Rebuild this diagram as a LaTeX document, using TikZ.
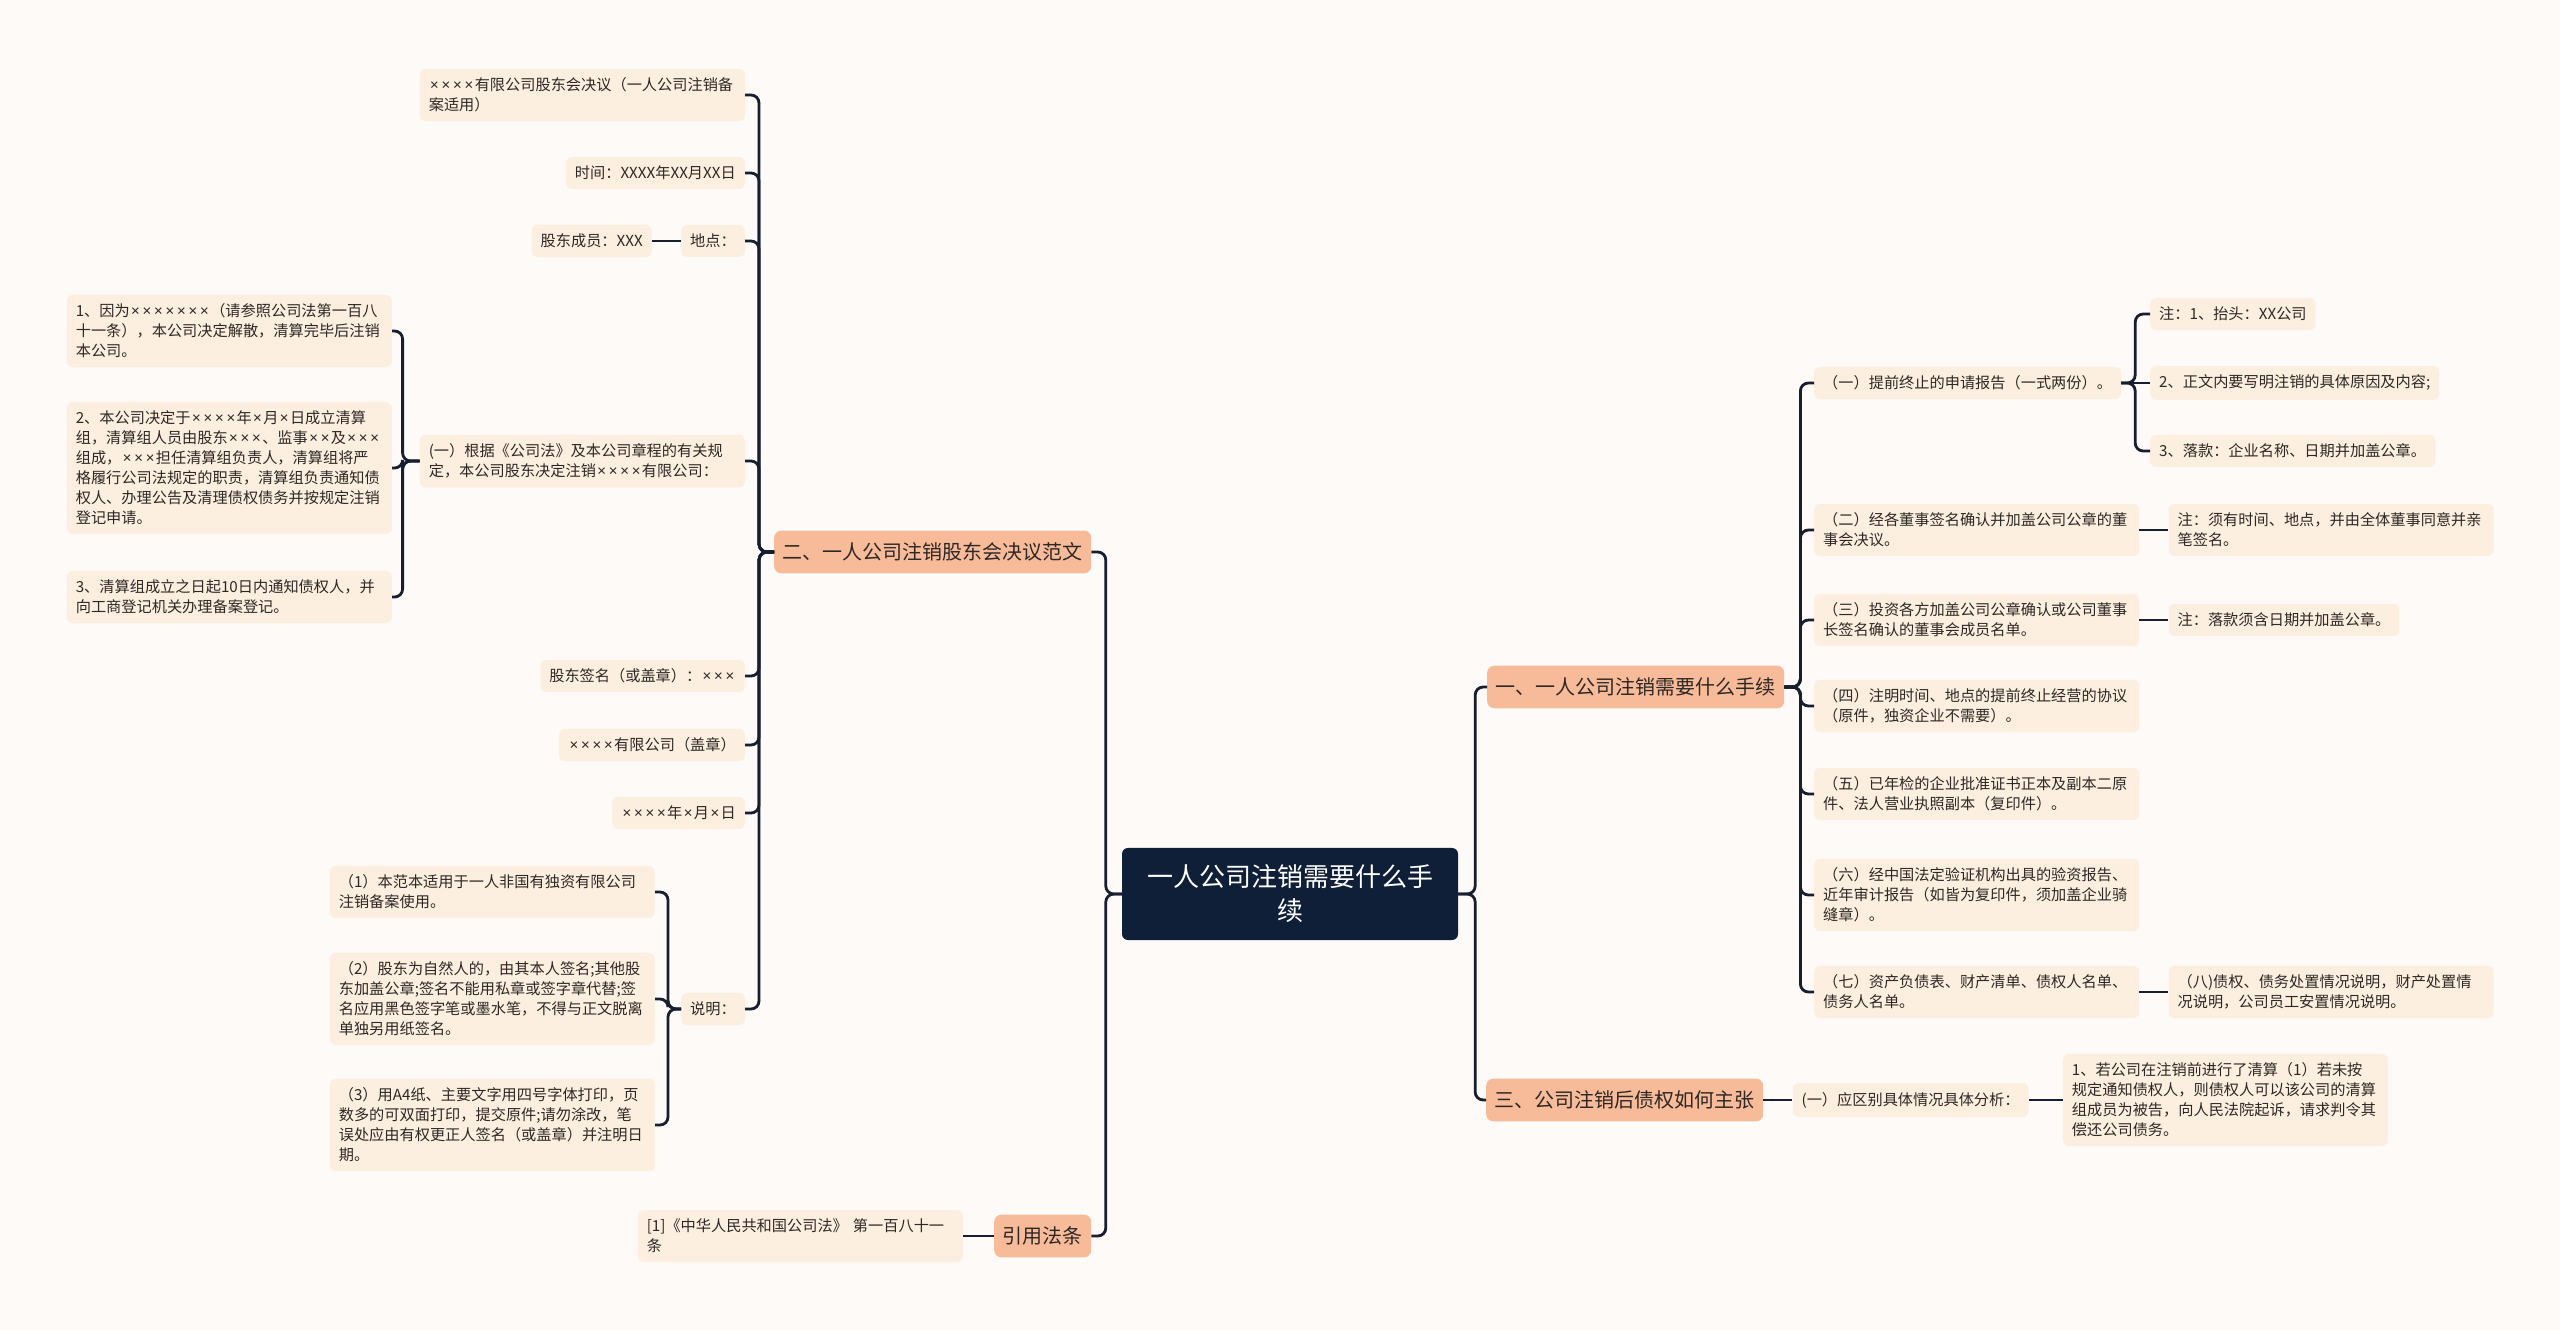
\documentclass[tikz,border=0pt]{standalone}
\usepackage{fontspec}
\setmainfont{Noto Sans CJK SC}
\newfontfamily\latinfont{Noto Sans}
\usepackage{xcolor}
\usepackage{tikz}
\usetikzlibrary{positioning}
\definecolor{SheetBg}{RGB}{253,250,248}
\definecolor{LeafFill}{RGB}{253,239,223}
\definecolor{BranchFill}{RGB}{248,187,154}
\definecolor{RootNavy}{RGB}{16,31,56}
\definecolor{LinkNavy}{RGB}{22,30,48}
\definecolor{TextDark}{RGB}{45,40,37}
% narrow multiplication sign, as in the source
\newcommand\xm{{\latinfont\kern1.4pt×\kern1.4pt}}

\begin{document}
\begin{tikzpicture}[x=1pt,y=-1pt,
  leaf/.style={fill=LeafFill, rounded corners=6pt, inner xsep=9pt, inner ysep=9pt,
    align=left, text=TextDark, font=\fontsize{15.2}{20}\selectfont},
  wide/.style={leaf, text width=307pt},
  branch/.style={fill=BranchFill, rounded corners=7pt, inner xsep=8.5pt, inner ysep=12pt,
    text=TextDark, font=\fontsize{20}{24}\selectfont},
  root/.style={fill=RootNavy, rounded corners=6pt, inner xsep=25pt, inner ysep=17pt,
    align=center, text=white, font=\fontsize{26}{34}\selectfont},
  link/.style={draw=LinkNavy, line width=2.8pt, rounded corners=8pt}]
  \path[use as bounding box] (0,0) rectangle (2560,1330);
  \fill[SheetBg] (0,0) rectangle (2560,1330);

  % centre
  \node[root] (root) at (1290,894) {一人公司注销需要什么手\\续};

  % left branch: resolution template
  \node[branch, anchor=west] (b2) at (774,552) {二、一人公司注销股东会决议范文};
  \node[wide, anchor=east] (n1) at (745,95) {\xm\xm\xm\xm 有限公司股东会决议（一人公司注销备\\案适用）};
  \node[leaf, anchor=east] (n2) at (745,173) {时间：XXXX年XX月XX日};
  \node[leaf, anchor=east] (n3) at (745,241) {地点：};
  \node[leaf, left=29pt of n3] (n3a) {股东成员：XXX};
  \node[wide, anchor=east] (n4) at (745,461) {(一）根据《公司法》及本公司章程的有关规\\定，本公司股东决定注销\xm\xm\xm\xm 有限公司：};
  \node[leaf, anchor=east] (n5) at (745,676) {股东签名（或盖章）：\xm\xm\xm};
  \node[leaf, anchor=east] (n6) at (745,745) {\xm\xm\xm\xm 有限公司（盖章）};
  \node[leaf, anchor=east] (n7) at (745,813) {\xm\xm\xm\xm 年\xm 月\xm 日};
  \node[leaf, anchor=east] (n8) at (745,1009) {说明：};

  \node[wide, anchor=east] (c1) at (392,331) {1、因为\xm\xm\xm\xm\xm\xm\xm（请参照公司法第一百八\\十一条），本公司决定解散，清算完毕后注销\\本公司。};
  \node[wide, anchor=east] (c2) at (392,468) {2、本公司决定于\xm\xm\xm\xm 年\xm 月\xm 日成立清算\\组，清算组人员由股东\xm\xm\xm、监事\xm\xm 及\xm\xm\xm\\组成，\xm\xm\xm 担任清算组负责人，清算组将严\\格履行公司法规定的职责，清算组负责通知债\\权人、办理公告及清理债权债务并按规定注销\\登记申请。};
  \node[wide, anchor=east] (c3) at (392,597) {3、清算组成立之日起10日内通知债权人，并\\向工商登记机关办理备案登记。};

  \node[wide, anchor=east] (d1) at (655,892) {（1）本范本适用于一人非国有独资有限公司\\注销备案使用。};
  \node[wide, anchor=east] (d2) at (655,999) {（2）股东为自然人的，由其本人签名;其他股\\东加盖公章;签名不能用私章或签字章代替;签\\名应用黑色签字笔或墨水笔，不得与正文脱离\\单独另用纸签名。};
  \node[wide, anchor=east] (d3) at (655,1125) {（3）用A4纸、主要文字用四号字体打印，页\\数多的可双面打印，提交原件;请勿涂改，笔\\误处应由有权更正人签名（或盖章）并注明日\\期。};

  % left branch: cited law
  \node[branch, anchor=west] (b4) at (994,1236) {引用法条};
  \node[wide, anchor=east] (e1) at (963,1236) {[1]《中华人民共和国公司法》~第一百八十一\\条};

  % right branch: procedures
  \node[branch, anchor=west] (b1) at (1487,687) {一、一人公司注销需要什么手续};
  \node[leaf, anchor=west] (f1) at (1814,383) {（一）提前终止的申请报告（一式两份）。};
  \node[wide, anchor=west] (f2) at (1814,530) {（二）经各董事签名确认并加盖公司公章的董\\事会决议。};
  \node[wide, anchor=west] (f3) at (1814,620) {（三）投资各方加盖公司公章确认或公司董事\\长签名确认的董事会成员名单。};
  \node[wide, anchor=west] (f4) at (1814,706) {（四）注明时间、地点的提前终止经营的协议\\（原件，独资企业不需要）。};
  \node[wide, anchor=west] (f5) at (1814,794) {（五）已年检的企业批准证书正本及副本二原\\件、法人营业执照副本（复印件）。};
  \node[wide, anchor=west] (f6) at (1814,895) {（六）经中国法定验证机构出具的验资报告、\\近年审计报告（如皆为复印件，须加盖企业骑\\缝章）。};
  \node[wide, anchor=west] (f7) at (1814,992) {（七）资产负债表、财产清单、债权人名单、\\债务人名单。};

  \node[leaf, anchor=west] (g1) at (2150,314) {注：1、抬头：XX公司};
  \node[leaf, anchor=west] (g2) at (2150,383) {2、正文内要写明注销的具体原因及内容;};
  \node[leaf, anchor=west] (g3) at (2150,451) {3、落款：企业名称、日期并加盖公章。};
  \node[wide, right=29pt of f2] (g4) {注：须有时间、地点，并由全体董事同意并亲\\笔签名。};
  \node[leaf, right=29pt of f3] (g5) {注：落款须含日期并加盖公章。};
  \node[wide, right=29pt of f7] (g6) {（八)债权、债务处置情况说明，财产处置情\\况说明，公司员工安置情况说明。};

  % right branch: creditor claims
  \node[branch, anchor=west] (b3) at (1486,1100) {三、公司注销后债权如何主张};
  \node[leaf, right=29pt of b3] (h1) {(一）应区别具体情况具体分析：};
  \node[wide, right=34pt of h1] (h2) {1、若公司在注销前进行了清算（1）若未按\\规定通知债权人，则债权人可以该公司的清算\\组成员为被告，向人民法院起诉，请求判令其\\偿还公司债务。};

  % connectors
  \foreach \b in {b2,b4}{
    \draw[link] (root.west) -- ++(-16,0) |- (\b.east);
  }
  \foreach \b in {b1,b3}{
    \draw[link] (root.east) -- ++(17,0) |- (\b.west);
  }
  \foreach \c in {n1,n2,n3,n4,n5,n6,n7,n8}{
    \draw[link] (b2.west) -- ++(-15,0) |- (\c.east);
  }
  \foreach \c in {c1,c2,c3}{
    \draw[link] (n4.west) -- ++(-17,0) |- (\c.east);
  }
  \foreach \c in {d1,d2,d3}{
    \draw[link] (n8.west) -- ++(-13,0) |- (\c.east);
  }
  \foreach \c in {f1,f2,f3,f4,f5,f6,f7}{
    \draw[link] (b1.east) -- ++(16,0) |- (\c.west);
  }
  \foreach \c in {g1,g3}{
    \draw[link] (f1.east) -- ++(14,0) |- (\c.west);
  }
  \draw[link] (f1.east) -- (g2.west);
  \draw[link] (n3.west) -- (n3a.east);
  \draw[link] (b4.west) -- (e1.east);
  \draw[link] (f2.east) -- (g4.west);
  \draw[link] (f3.east) -- (g5.west);
  \draw[link] (f7.east) -- (g6.west);
  \draw[link] (b3.east) -- (h1.west);
  \draw[link] (h1.east) -- (h2.west);
\end{tikzpicture}
\end{document}
